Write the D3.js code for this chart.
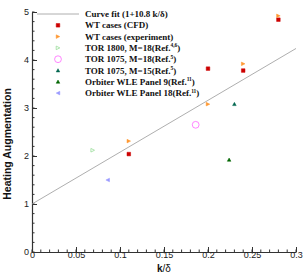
<!DOCTYPE html>
<html>
<head>
<meta charset="utf-8">
<script src="https://cdn.jsdelivr.net/npm/d3@7"></script>
<style>
  html, body { margin: 0; padding: 0; background: #fff; }
  svg { display: block; }
</style>
</head>
<body>
<svg id="chart"></svg>
<script>
const width = 303;
const height = 276;

// data
const wtCfd = [[0.11, 2.04], [0.20, 3.82], [0.24, 3.78], [0.28, 4.84]];
const wtExp = [[0.11, 2.31], [0.20, 3.08], [0.24, 3.92], [0.28, 4.92]];
const tor1800 = [[0.069, 2.12]];
const tor1075m18 = [[0.186, 2.65]];
const tor1075m15 = [[0.23, 3.08]];
const wlePanel9 = [[0.224, 1.92]];
const wlePanel18 = [[0.086, 1.50]];
const fitA = 1, fitB = 10.8;

const xTicks = [0, 0.05, 0.1, 0.15, 0.2, 0.25, 0.3];
const yTicks = [0, 1, 2, 3, 4, 5];

const series = [
  { name: "WT cases (CFD)", ref: "", data: wtCfd, shape: "square", color: "#cc0000", fill: true },
  { name: "WT cases (experiment)", ref: "", data: wtExp, shape: "triRight", color: "#ff9933", fill: true },
  { name: "TOR 1800, M=18(Ref.", ref: "4,6", data: tor1800, shape: "triRight", color: "#99dd99", fill: false },
  { name: "TOR 1075, M=18(Ref.", ref: "5", data: tor1075m18, shape: "circle", color: "#ff66ff", fill: false },
  { name: "TOR 1075, M=15(Ref.", ref: "5", data: tor1075m15, shape: "triUp", color: "#00664f", fill: true },
  { name: "Orbiter WLE Panel 9(Ref.", ref: "11", data: wlePanel9, shape: "triUp", color: "#006600", fill: true },
  { name: "Orbiter WLE Panel 18(Ref.", ref: "11", data: wlePanel18, shape: "triLeft", color: "#9999ff", fill: true }
];

const margin = { left: 32, right: 7, top: 12, bottom: 24 };

const svg = d3.select("#chart")
  .attr("width", width)
  .attr("height", height);

const x = d3.scaleLinear().domain([0, 0.3]).range([margin.left, width - margin.right]);
const y = d3.scaleLinear().domain([0, 5]).range([height - margin.bottom, margin.top]);

function shapePath(shape, r) {
  if (shape === "square") return `M${-r},${-r}h${2 * r}v${2 * r}h${-2 * r}Z`;
  if (shape === "triRight") return `M${-r},${-r}L${r},0L${-r},${r}Z`;
  if (shape === "triLeft") return `M${r},${-r}L${-r},0L${r},${r}Z`;
  if (shape === "triUp") return `M0,${-r}L${r},${r * 0.8}L${-r},${r * 0.8}Z`;
  return d3.symbol(d3.symbolCircle, Math.PI * r * r)();
}

function drawMarker(g, s, cx, cy) {
  const r = s.shape === "circle" ? 3.4 : 1.8;
  g.append("path")
    .attr("d", shapePath(s.shape, r))
    .attr("transform", `translate(${cx},${cy})`)
    .attr("fill", s.fill ? s.color : "none")
    .attr("stroke", s.color)
    .attr("stroke-width", s.fill ? 0.5 : 0.8);
}

// axes
const axisColor = "#333";
const xAxis = svg.append("g")
  .attr("transform", `translate(0,${y(0)})`)
  .call(d3.axisBottom(x).tickValues(xTicks).tickFormat(d => String(d)).tickSize(-5).tickSizeOuter(0));
xAxis.append("g").selectAll("line")
  .data(d3.range(0, 0.3001, 0.01))
  .join("line")
  .attr("x1", d => x(d)).attr("x2", d => x(d))
  .attr("y1", 0).attr("y2", -2.5)
  .attr("stroke", axisColor);

const yAxis = svg.append("g")
  .attr("transform", `translate(${x(0)},0)`)
  .call(d3.axisLeft(y).tickValues(yTicks).tickFormat(d => String(d)).tickSize(-5).tickSizeOuter(0));
yAxis.append("g").selectAll("line")
  .data(d3.range(0, 5.001, 0.2))
  .join("line")
  .attr("y1", d => y(d)).attr("y2", d => y(d))
  .attr("x1", 0).attr("x2", 2.5)
  .attr("stroke", axisColor);

[xAxis, yAxis].forEach(a => {
  a.select(".domain").attr("stroke", axisColor).attr("stroke-width", 1.2);
  a.selectAll(".tick line").attr("stroke", axisColor);
  a.selectAll("text")
    .attr("font-family", "Liberation Sans, Arial, sans-serif")
    .attr("font-size", 9)
    .attr("fill", "#222");
});
xAxis.selectAll(".tick text").attr("dy", "0.2em").attr("y", 4);
yAxis.selectAll(".tick text").attr("x", -3).attr("dx", 0);

// axis titles
svg.append("text")
  .attr("transform", `translate(11,${(y(0) + y(5)) / 2 + 12}) rotate(-90)`)
  .attr("text-anchor", "middle")
  .attr("font-family", "Liberation Sans, Arial, sans-serif")
  .attr("font-weight", "bold")
  .attr("font-size", 10.5)
  .attr("fill", "#111")
  .text("Heating Augmentation");

const xl = svg.append("text")
  .attr("x", x(0.15))
  .attr("y", height - 4)
  .attr("text-anchor", "middle")
  .attr("font-family", "Liberation Sans, Arial, sans-serif")
  .attr("font-size", 10)
  .attr("fill", "#111");
xl.append("tspan").attr("font-weight", "bold").text("k");
xl.append("tspan").text("/δ");

// curve fit
svg.append("line")
  .attr("x1", x(0)).attr("y1", y(fitA))
  .attr("x2", x(0.3)).attr("y2", y(fitA + fitB * 0.3))
  .attr("stroke", "#999")
  .attr("stroke-width", 0.8);

// points
const pts = svg.append("g");
series.forEach(s => {
  s.data.forEach(d => drawMarker(pts, s, x(d[0]), y(d[1])));
});

// legend
const legend = svg.append("g");
const lx = 58, ty = 14, step = 11.3, tx = 85;
legend.append("line")
  .attr("x1", 37).attr("x2", 79)
  .attr("y1", ty).attr("y2", ty)
  .attr("stroke", "#999").attr("stroke-width", 0.8);

function legendText(row, label, sup) {
  const t = legend.append("text")
    .attr("x", tx)
    .attr("y", ty + row * step + 3)
    .attr("font-family", "Liberation Serif, Times New Roman, serif")
    .attr("font-weight", "bold")
    .attr("font-size", 9)
    .attr("fill", "#111");
  t.append("tspan").text(label);
  if (sup) {
    t.append("tspan").attr("dy", -3.5).attr("font-size", 5.5).text(sup);
    t.append("tspan").attr("dy", 3.5).text(")");
  }
}

legendText(0, "Curve fit (1+10.8 k/δ)");
series.forEach((s, i) => {
  drawMarker(legend, s, lx, ty + (i + 1) * step);
  legendText(i + 1, s.name, s.ref);
});
</script>
</body>
</html>
